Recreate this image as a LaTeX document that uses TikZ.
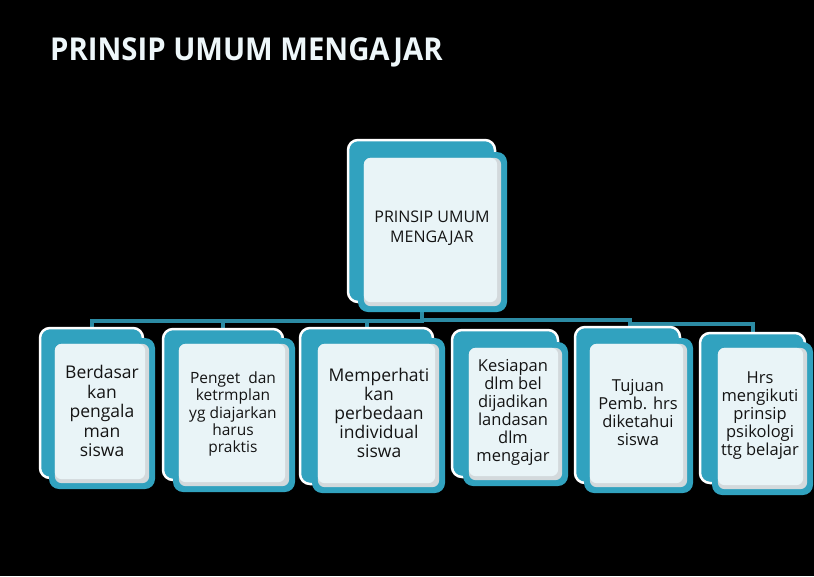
\documentclass[tikz,border=0pt]{standalone}
\usepackage{fontspec}
\setmainfont{Open Sans}
\usetikzlibrary{backgrounds}
\definecolor{cteal}{HTML}{31A2BF}
\definecolor{cline}{HTML}{2C8BA4}
\definecolor{clight}{HTML}{E9F4F7}
\definecolor{cshade}{HTML}{D3D9DC}
\definecolor{ctitle}{HTML}{EEF7FA}
\tikzset{
  backcard/.style={draw=white, line width=2.5pt, fill=cteal, rounded corners=10pt, inner sep=0pt},
  frontcard/.style={fill=cteal, rounded corners=10pt, inner sep=0pt},
  conn/.style={draw=cline, line width=4pt},
  txt/.style={align=center, inner sep=0pt, text=black!92},
}
\newcommand\mkcard[9]{%
  \node[backcard, minimum width=#4pt, minimum height=#5pt] (b#1) at (#2,#3) {};
  \node[frontcard, minimum width=#8pt, minimum height=#9pt] (f#1) at (#6,#7) {};
  \fill[cshade, rounded corners=7pt] ([shift={(6pt,-6pt)}]f#1.north west) rectangle ([shift={(-6pt,6pt)}]f#1.south east);
  \fill[clight, rounded corners=7pt] ([shift={(6pt,-6pt)}]f#1.north west) rectangle ([shift={(-10pt,10pt)}]f#1.south east);
}
\begin{document}
\begin{tikzpicture}[x=1pt,y=-1pt]
\begin{pgfonlayer}{background}
  \fill[black] (0,0) rectangle (814,576);
\end{pgfonlayer}
\useasboundingbox (0,0) rectangle (814,576);

\node[anchor=base west, font=\fontsize{31.5}{31.5}\selectfont\bfseries, text=ctitle, inner sep=0pt, xscale=0.93, transform shape] (title) at (50,60) {PRINSIP UMUM MENGAJAR};

\mkcard{0}{421.5}{221}{147}{162}{432.5}{232}{149}{160}
\mkcard{1}{91.5}{403}{103}{150}{102}{413.5}{106}{151}
\mkcard{2}{223}{404.5}{120}{151}{234}{415}{122}{154}
\mkcard{3}{366.5}{406}{133}{156}{378.5}{415.5}{133}{155}
\mkcard{4}{505}{403.5}{106}{147}{515.5}{414}{105}{144}
\mkcard{5}{627.5}{405}{105}{156}{638.5}{415.5}{109}{155}
\mkcard{6}{752.5}{408}{105}{150}{762.5}{418.5}{101}{153}

\node[txt, font=\fontsize{16}{20}\selectfont] (t0) at (432,228) {PRINSIP UMUM\\MENGAJAR};
\node[txt, font=\fontsize{17.5}{19.5}\selectfont] (t1) at (102,411) {Berdasar\\kan\\pengala\\man\\siswa};
\node[txt, font=\fontsize{15.5}{17.2}\selectfont] (t2) at (233,414) {Penget~~dan\\ketrmplan\\yg diajarkan\\harus\\praktis};
\node[txt, font=\fontsize{17.5}{19}\selectfont] (t3) at (379,413) {Memperhati\\kan\\perbedaan\\individual\\siswa};
\node[txt, font=\fontsize{16.5}{18}\selectfont] (t4) at (513,412) {Kesiapan\\dlm bel\\dijadikan\\landasan\\dlm\\mengajar};
\node[txt, font=\fontsize{16.5}{18}\selectfont] (t5) at (638,413) {Tujuan\\Pemb. hrs\\diketahui\\siswa};
\node[txt, font=\fontsize{16.5}{18}\selectfont] (t6) at (760,416) {Hrs\\mengikuti\\prinsip\\psikologi\\ttg belajar};

\coordinate (k6a) at (630,320);
\coordinate (k6b) at (630,324);
\begin{pgfonlayer}{background}
  \draw[conn] (b0.south) -- ++(0,18) -| (b1.north);
  \draw[conn] (b0.south) -- ++(0,18) -| (b2.north);
  \draw[conn] (b0.south) -- ++(0,18) -| (b3.north);
  \draw[conn] (b0.south) |- (k6a) -- (k6b) -| (b6.north);
\end{pgfonlayer}
\end{tikzpicture}
\end{document}
